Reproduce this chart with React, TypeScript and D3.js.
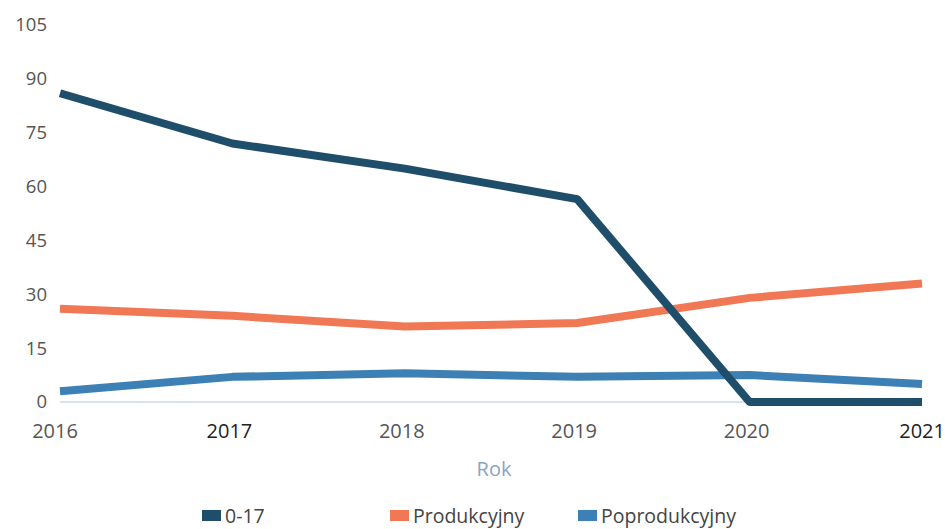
import { useMemo } from 'react';
import * as d3 from 'd3';

// --- Data ---
const years = [2016, 2017, 2018, 2019, 2020, 2021];
const series017 = [86, 72, 65, 56.5, 0, 0];
const seriesProd = [26, 24, 21, 22, 29, 33];
const seriesPoprod = [3, 7, 8, 7, 7.5, 5];
const yTicks = [0, 15, 30, 45, 60, 75, 90, 105];
const seriesNames = ['0-17', 'Produkcyjny', 'Poprodukcyjny'];
const seriesColors = ['#1f4e6b', '#f07855', '#3d80b6'];

const W = 945;
const H = 529;

const App = () => {
    const x = useMemo(() => d3.scaleLinear().domain([2016, 2021]).range([60, 922]), []);
    const y = useMemo(() => d3.scaleLinear().domain([0, 105]).range([402, 25]), []);

    const line = d3.line<number>()
        .x((_, i) => x(years[i]))
        .y(d => y(d));

    const allSeries = [series017, seriesProd, seriesPoprod];
    // draw order: orange, blue, dark on top
    const order = [1, 2, 0];
    const legendX = [202, 390, 578];

    return (
        <svg width={W} height={H} style={{ position: 'absolute', left: 0, top: 0, background: '#fff' }}
             fontFamily="'Open Sans', sans-serif">
            {/* y axis labels */}
            {yTicks.map(t => (
                <text key={t} x={47} y={y(t)} dy="0.35em" textAnchor="end" fontSize={18.5} fill="#555">
                    {t}
                </text>
            ))}
            {/* baseline */}
            <line x1={x(2016)} x2={x(2021)} y1={y(0)} y2={y(0)} stroke="#c7d8ee" strokeWidth={1.5} />

            {order.map(i => (
                <path key={i} d={line(allSeries[i]) || ''} fill="none" stroke={seriesColors[i]}
                      strokeWidth={8} strokeLinejoin="round" />
            ))}

            {/* x axis labels */}
            {years.map((yr, i) => (
                <text key={yr} x={i === 5 ? 945 : x(yr) - (i === 0 ? 5 : 3)} y={438}
                      textAnchor={i === 5 ? 'end' : 'middle'} fontSize={20}
                      fill={i === 1 || i === 5 ? '#222' : '#555'}>
                    {yr}
                </text>
            ))}
            <text x={494} y={476} textAnchor="middle" fontSize={20} fill="#8aa4c0">Rok</text>

            {/* legend */}
            {seriesNames.map((n, i) => (
                <g key={n} transform={`translate(${legendX[i]},516)`}>
                    <rect x={0} y={-6} width={19} height={11} fill={seriesColors[i]} />
                    <text x={23} y={0} dy="0.35em" fontSize={19.5} fill="#444">{n}</text>
                </g>
            ))}
        </svg>
    );
};

export default App;
